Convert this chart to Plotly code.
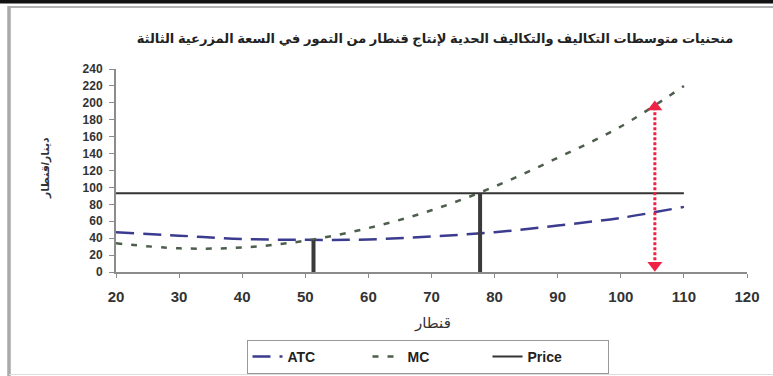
import plotly.graph_objects as go

# ---- data ----
q = [20, 30, 40, 50, 60, 70, 80, 90, 100, 110]
atc = [47, 43, 39, 38, 38.5, 42, 47, 55, 64, 77]
mc = [34, 28, 29, 37, 52, 73, 101, 135, 172, 220]
price_q = [20, 110]
price = [93, 93]
bar1_q = [51.3, 51.3]
bar1_v = [0, 37.5]
bar2_q = [77.7, 77.7]
bar2_v = [0, 93]
arrow_q = [105.4, 105.4]
arrow_v = [8, 195]

title_text = "منحنيات متوسطات التكاليف والتكاليف الحدية لإنتاج قنطار من التمور في السعة المزرعية الثالثة"
y_title = "دينار/قنطار"
x_title = "قنطار"

W, H = 773, 376
L, R, T, B = 116, 26, 69, 104
pw, ph = W - L - R, H - T - B


def px(x):
    return (x - L) / pw


def py(y):
    return (H - B - y) / ph


font_fam = "Arial, Liberation Sans, DejaVu Sans, sans-serif"

fig = go.Figure()
fig.add_trace(go.Scatter(x=q, y=atc, name="ATC", mode="lines", line_shape="spline",
                         line=dict(color="#3b3b8f", width=2.5, dash="18px,9px")))
fig.add_trace(go.Scatter(x=q, y=mc, name="MC", mode="lines", line_shape="spline",
                         line=dict(color="#4d5e4d", width=2.5, dash="6px,9px")))
fig.add_trace(go.Scatter(x=price_q, y=price, name="Price", mode="lines",
                         line=dict(color="#333333", width=2)))
fig.add_trace(go.Scatter(x=bar1_q, y=bar1_v, mode="lines", showlegend=False,
                         line=dict(color="#3a3a3a", width=4)))
fig.add_trace(go.Scatter(x=bar2_q, y=bar2_v, mode="lines", showlegend=False,
                         line=dict(color="#3a3a3a", width=4)))
fig.add_trace(go.Scatter(x=arrow_q, y=arrow_v, mode="lines+markers", showlegend=False,
                         line=dict(color="#ee2244", width=3, dash="3px,2px"),
                         marker=dict(symbol=["triangle-down", "triangle-up"], size=13,
                                     color="#ee2244")))

# frame lines
fig.add_shape(type="line", xref="paper", yref="paper", x0=px(0), x1=px(W), y0=py(1.5), y1=py(1.5),
              line=dict(color="#111111", width=4))
fig.add_shape(type="line", xref="paper", yref="paper", x0=px(9), x1=px(W), y0=py(7), y1=py(7),
              line=dict(color="#999999", width=1.5))
fig.add_shape(type="line", xref="paper", yref="paper", x0=px(9), x1=px(9), y0=py(6), y1=py(H),
              line=dict(color="#aaaaaa", width=3.5))
fig.add_shape(type="line", xref="paper", yref="paper", x0=px(9), x1=px(W), y0=py(374.5), y1=py(374.5),
              line=dict(color="#dddddd", width=1))

fig.add_annotation(text="<b>" + y_title + "</b>", textangle=-90, xref="paper", yref="paper",
                   x=px(45), y=py(168), xanchor="center", yanchor="middle", showarrow=False,
                   font=dict(family=font_fam, size=11, color="#333333"))
fig.add_annotation(text=x_title, xref="paper", yref="paper",
                   x=px(432), y=py(323), xanchor="center", yanchor="middle", showarrow=False,
                   font=dict(family=font_fam, size=15, color="#333333"))

fig.update_layout(
    width=W, height=H,
    margin=dict(l=L, r=R, t=T, b=B, autoexpand=False),
    paper_bgcolor="white", plot_bgcolor="white",
    title=dict(text="<b>" + title_text + "</b>", x=435 / W, xanchor="center", xref="container",
               y=1 - 38 / H, yanchor="middle", yref="container",
               font=dict(family=font_fam, size=13, color="#222222")),
    xaxis=dict(range=[20, 120], dtick=10, tick0=20, showgrid=False, zeroline=False,
               showline=True, linecolor="#8c8c8c", linewidth=2,
               ticks="outside", ticklen=4, tickcolor="#8c8c8c", tickwidth=1,
               ticklabelstandoff=6,
               tickfont=dict(family=font_fam, size=15, color="#333333", weight="bold")),
    yaxis=dict(range=[0, 240], dtick=20, showgrid=False, zeroline=False,
               showline=True, linecolor="#8c8c8c", linewidth=2,
               ticks="outside", ticklen=5, tickcolor="#8c8c8c", tickwidth=1,
               ticklabelstandoff=4,
               tickfont=dict(family=font_fam, size=12, color="#333333", weight="bold")),
    legend=dict(orientation="h", x=px(427.5), xanchor="center", y=py(374), yanchor="bottom",
                bgcolor="white", bordercolor="#999999", borderwidth=1,
                font=dict(family=font_fam, size=14, color="#222222", weight="bold"),
                entrywidth=75, tracegroupgap=0),
    showlegend=True,
)

fig.write_html("out.html", config={"displayModeBar": False},
               post_script="document.body.style.margin='0';document.body.style.overflow='hidden';")
